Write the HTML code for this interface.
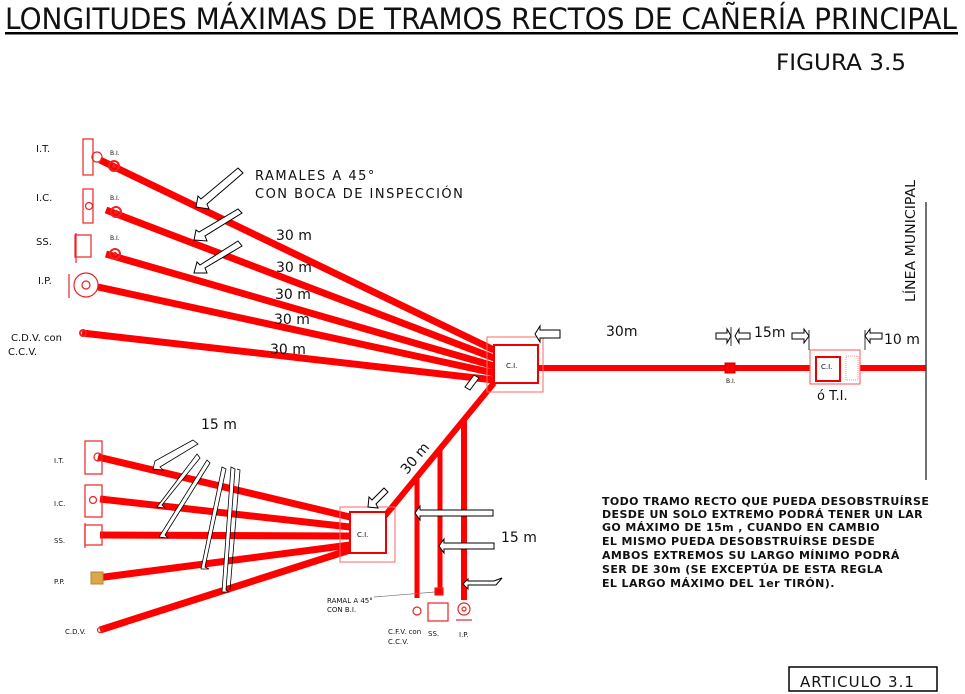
<!DOCTYPE html>
<html><head><meta charset="utf-8"><style>
html,body{margin:0;padding:0;background:#fff}
svg{display:block}
text{font-family:"DejaVu Sans","Liberation Sans",sans-serif;fill:#111}
</style></head><body>
<svg width="965" height="694" viewBox="0 0 965 694" xmlns="http://www.w3.org/2000/svg">
<text x="5" y="29" font-size="29" textLength="952" lengthAdjust="spacingAndGlyphs">LONGITUDES MÁXIMAS DE TRAMOS RECTOS DE CAÑERÍA PRINCIPAL</text>
<rect x="5" y="32" width="953" height="2.5" fill="#000"/>
<text x="776" y="70" font-size="22" textLength="130" lengthAdjust="spacingAndGlyphs">FIGURA 3.5</text>

<g stroke="#f00" stroke-width="7" stroke-linecap="butt">
<line x1="100" y1="160" x2="494" y2="350"/>
<line x1="106" y1="210" x2="494" y2="358"/>
<line x1="106" y1="254" x2="494" y2="366"/>
<line x1="98" y1="287" x2="494" y2="373"/>
<line x1="82" y1="333" x2="494" y2="380"/>
<line x1="538" y1="368" x2="926" y2="368" stroke-width="6"/>
<line x1="494" y1="383" x2="384" y2="517" stroke-width="6"/>
<line x1="417" y1="478" x2="417" y2="598" stroke-width="5"/>
<line x1="440" y1="450" x2="440" y2="590" stroke-width="5"/>
<line x1="464" y1="420" x2="464" y2="600" stroke-width="6"/>
<line x1="98" y1="457" x2="350" y2="517"/>
<line x1="100" y1="499" x2="350" y2="527"/>
<line x1="100" y1="535" x2="350" y2="536"/>
<line x1="97" y1="578" x2="350" y2="545"/>
<line x1="100" y1="630" x2="350" y2="550"/>
</g>

<rect x="487" y="337" width="56" height="55" fill="none" stroke="#f66" stroke-width="1"/>
<rect x="494" y="345" width="44" height="38" fill="#fff" stroke="#e00" stroke-width="2"/>
<text x="506" y="368" font-size="7">C.I.</text>
<rect x="340" y="507" width="55" height="55" fill="none" stroke="#f66" stroke-width="1"/>
<rect x="350" y="512" width="36" height="41" fill="#fff" stroke="#e00" stroke-width="2"/>
<text x="357" y="537" font-size="7">C.I.</text>
<rect x="810" y="350" width="50" height="34" fill="#fff" stroke="#f55" stroke-width="1"/>
<rect x="816" y="357" width="24" height="24" fill="#fff" stroke="#e00" stroke-width="2"/>
<rect x="846" y="356" width="12" height="24" fill="none" stroke="#f88" stroke-dasharray="1,1"/>
<text x="821" y="369" font-size="7">C.I.</text>
<text x="817" y="400" font-size="13">ó T.I.</text>
<rect x="725" y="363" width="10" height="10" fill="#f00" stroke="#c00"/>
<text x="726" y="383" font-size="6">B.I.</text>

<line x1="926" y1="202" x2="926" y2="480" stroke="#444" stroke-width="1.5"/>
<text transform="translate(915,302) rotate(-90)" font-size="13" textLength="122" lengthAdjust="spacingAndGlyphs">LÍNEA MUNICIPAL</text>

<g fill="none" stroke="#e22" stroke-width="1.2">
<rect x="83" y="139" width="10" height="36"/>
<circle cx="97" cy="157" r="5"/>
<circle cx="114" cy="166" r="5" stroke-width="2"/><circle cx="114" cy="166" r="1.5" fill="#e22"/>
<rect x="83" y="189" width="10" height="34"/>
<circle cx="89" cy="206" r="3.5"/>
<circle cx="116" cy="212" r="5" stroke-width="2"/><circle cx="116" cy="212" r="1.5" fill="#e22"/>
<rect x="75" y="235" width="16" height="22"/>
<line x1="76" y1="233" x2="76" y2="263"/>
<circle cx="115" cy="254" r="5" stroke-width="2"/><circle cx="115" cy="254" r="1.5" fill="#e22"/>
<circle cx="86" cy="285" r="12"/><circle cx="86" cy="285" r="4"/>
<line x1="69" y1="274" x2="69" y2="298"/>
<circle cx="83" cy="333" r="3" stroke-width="2"/>
</g>
<g font-size="10">
<text x="36" y="152">I.T.</text>
<text x="36" y="201">I.C.</text>
<text x="36" y="245">SS.</text>
<text x="38" y="284">I.P.</text>
<text x="11" y="341">C.D.V. con</text>
<text x="8" y="355">C.C.V.</text>
</g>
<g font-size="6"><text x="110" y="155">B.I.</text><text x="110" y="200">B.I.</text><text x="110" y="240">B.I.</text></g>

<g fill="none" stroke="#e22" stroke-width="1.2">
<rect x="85" y="441" width="17" height="33"/>
<circle cx="98" cy="457" r="4"/>
<rect x="85" y="485" width="17" height="32"/>
<circle cx="93" cy="500" r="3.5"/>
<rect x="85" y="525" width="17" height="20"/>
<line x1="85" y1="523" x2="85" y2="548"/>
<circle cx="100" cy="630" r="2.5"/>
<circle cx="417" cy="611" r="4"/>
<rect x="428" y="603" width="20" height="18"/>
<circle cx="464" cy="609" r="6"/><circle cx="464" cy="609" r="2"/>
<line x1="456" y1="620" x2="472" y2="620"/>
<rect x="435" y="588" width="8" height="7" fill="#f00"/>
</g>
<rect x="91" y="572" width="12" height="12" fill="#d9a84a" stroke="#b8862a"/>
<g font-size="7">
<text x="54" y="463">I.T.</text>
<text x="54" y="506">I.C.</text>
<text x="54" y="543">SS.</text>
<text x="54" y="584">P.P.</text>
<text x="65" y="634">C.D.V.</text>
<text x="327" y="603">RAMAL A 45°</text>
<text x="327" y="612">CON B.I.</text>
<text x="388" y="634">C.F.V. con</text>
<text x="428" y="636">SS.</text>
<text x="388" y="644">C.C.V.</text>
<text x="459" y="637">I.P.</text>
</g>
<line x1="374" y1="597" x2="435" y2="592" stroke="#777" stroke-width="0.7"/>

<g font-size="14">
<text x="276" y="240">30 m</text>
<text x="276" y="272">30 m</text>
<text x="275" y="299">30 m</text>
<text x="274" y="324">30 m</text>
<text x="270" y="354">30 m</text>
<text x="606" y="336">30m</text>
<text x="754" y="337">15m</text>
<text x="884" y="344">10 m</text>
<text x="201" y="429">15 m</text>
<text x="501" y="542">15 m</text>
<text transform="translate(407,475) rotate(-50)">30 m</text>
</g>
<g font-size="13" letter-spacing="1.5">
<text x="255" y="180">RAMALES A 45°</text>
<text x="255" y="198">CON BOCA DE INSPECCIÓN</text>
</g>

<g fill="#fff" stroke="#000" stroke-width="1">
<path d="M238 168 L243 173 L207 204 L209 209 L196 207 L198 196 L201 199 Z"/>
<path d="M238 209 L242 213 L205 236 L207 241 L194 240 L196 230 L199 232 Z"/>
<path d="M238 241 L242 246 L205 268 L207 273 L194 273 L197 262 L200 265 Z"/>
<path d="M540 330 L560 330 L560 338 L540 338 L540 342 L535 334 L540 326 Z"/>
<path d="M716 333 L727 333 L727 329 L731 336 L727 343 L727 339 L716 339 Z"/>
<path d="M750 333 L739 333 L739 329 L735 336 L739 343 L739 339 L750 339 Z"/>
<path d="M792 333 L804 333 L804 329 L809 336 L804 343 L804 339 L792 339 Z"/>
<path d="M882 333 L870 333 L870 329 L865 336 L870 343 L870 339 L882 339 Z"/>
<path d="M493 510 L420 510 L420 506 L415 513 L420 520 L420 516 L493 516 Z"/>
<path d="M494 543 L444 543 L444 539 L439 546 L444 553 L444 549 L494 549 Z"/>
<path d="M502 578 L496 585 L468 585 L468 589 L463 584 L468 579 L468 581 L494 581 Z"/>
<path d="M384 488 L388 492 L376 504 L378 508 L368 507 L369 497 L372 500 Z"/>
<path d="M474 375 L479 378 L470 390 L465 387 Z"/>
</g>
<g fill="#fff" stroke="#000" stroke-width="0.8">
<line x1="731" y1="327" x2="731" y2="346"/>
<line x1="809" y1="330" x2="809" y2="350"/>
<line x1="865" y1="330" x2="865" y2="350"/>
<path d="M193 440 L198 444 L160 467 L163 470 L153 469 L155 461 Z"/>
<path d="M197 454 L200 458 L162 505 L165 508 L157 507 Z"/>
<path d="M207 460 L210 463 L165 535 L168 538 L159 537 Z"/>
<path d="M222 467 L226 469 L205 567 L209 569 L201 569 Z"/>
<path d="M231 467 L235 469 L226 590 L229 592 L222 592 Z"/>
<path d="M237 469 L240 470 L230 590" fill="none"/>
</g>

<g font-size="11" letter-spacing="0.4" font-weight="bold">
<text x="602" y="505">TODO TRAMO RECTO QUE PUEDA DESOBSTRUÍRSE</text>
<text x="602" y="518">DESDE UN SOLO EXTREMO PODRÁ TENER UN LAR</text>
<text x="602" y="531">GO MÁXIMO DE 15m , CUANDO EN CAMBIO</text>
<text x="602" y="545">EL MISMO PUEDA DESOBSTRUÍRSE DESDE</text>
<text x="602" y="559">AMBOS EXTREMOS SU LARGO MÍNIMO PODRÁ</text>
<text x="602" y="573">SER DE 30m (SE EXCEPTÚA DE ESTA REGLA</text>
<text x="602" y="587">EL LARGO MÁXIMO DEL 1er TIRÓN).</text>
</g>
<rect x="789" y="667" width="148" height="24" fill="none" stroke="#000" stroke-width="1.5"/>
<text x="800" y="687" font-size="15" letter-spacing="1">ARTICULO 3.1</text>
</svg>
</body></html>
